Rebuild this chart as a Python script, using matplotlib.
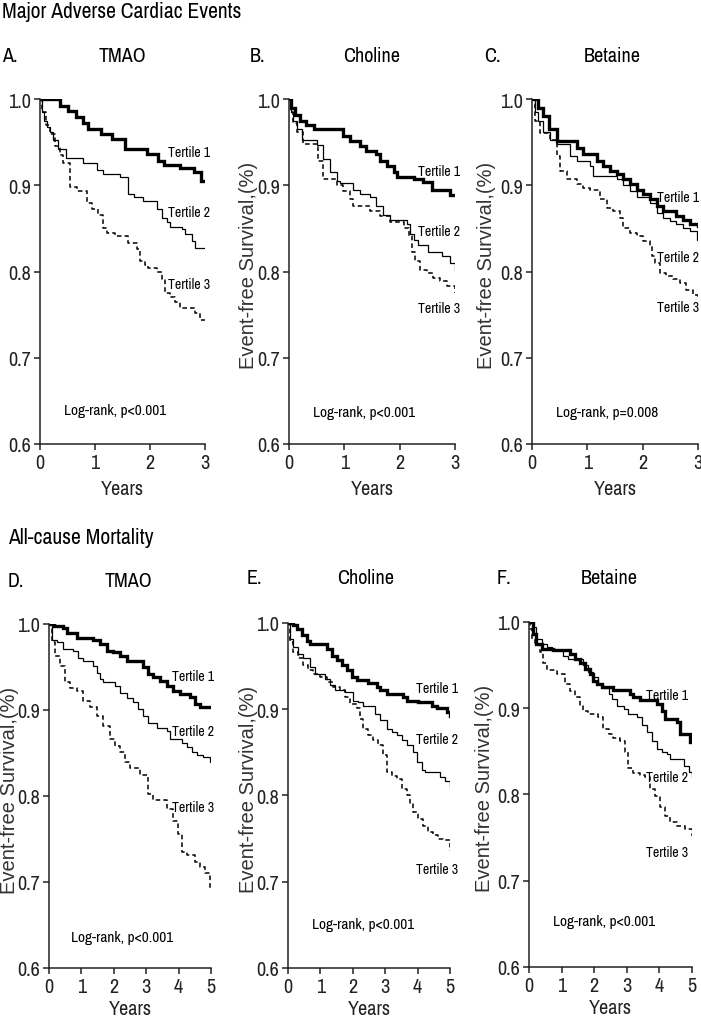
import matplotlib
matplotlib.use("Agg")
import matplotlib.pyplot as plt
from matplotlib import font_manager as fm

W, H = 701, 1020

# look for a narrow / condensed face like the Arial Narrow of the original
names = sorted({f.name for f in fm.fontManager.ttflist})
narrow_names = [n for n in names if "Narrow" in n or "Condensed" in n]
cond_fams = sorted({f.name for f in fm.fontManager.ttflist
                    if str(f.stretch) in ("condensed", "semi-condensed", "extra-condensed")
                    or (isinstance(f.stretch, int) and f.stretch < 500)})
if "Liberation Sans Narrow" in names:
    NARROW = dict(family=["Liberation Sans Narrow", "DejaVu Sans"])
    FOUND = True
elif narrow_names:
    NARROW = dict(family=[narrow_names[0], "DejaVu Sans"])
    FOUND = True
elif cond_fams:
    NARROW = dict(family=[cond_fams[0], "DejaVu Sans"], fontstretch="condensed")
    FOUND = True
else:
    NARROW = dict(family=["Liberation Sans", "DejaVu Sans"])
    FOUND = False
plt.rcParams["font.family"] = NARROW["family"]
if "fontstretch" in NARROW:
    plt.rcParams["font.stretch"] = "condensed"
SC = 1.0 if FOUND else 0.85

# ---- data: (years, survival) for each tertile ----
# A. MACE - TMAO
a_t1 = ([0, 0.36, 0.5, 0.65, 0.78, 0.88, 1.1, 1.3, 1.55, 1.95, 2.15, 2.25, 2.55, 2.8, 2.92, 3.0],
        [1.0, 0.992, 0.986, 0.979, 0.972, 0.965, 0.96, 0.954, 0.942, 0.936, 0.928, 0.923, 0.92, 0.915, 0.905, 0.905])
a_t2 = ([0, 0.03, 0.07, 0.12, 0.18, 0.24, 0.33, 0.48, 0.79, 1.03, 1.15, 1.45, 1.6, 1.7, 1.88, 2.12, 2.21, 2.3, 2.36, 2.58, 2.64, 2.76, 2.82, 3.0],
        [1.0, 0.985, 0.975, 0.968, 0.962, 0.953, 0.942, 0.932, 0.926, 0.918, 0.913, 0.909, 0.89, 0.886, 0.882, 0.872, 0.862, 0.857, 0.852, 0.849, 0.843, 0.835, 0.827, 0.827])
a_t3 = ([0, 0.03, 0.1, 0.18, 0.27, 0.36, 0.42, 0.55, 0.67, 0.85, 0.94, 1.06, 1.15, 1.21, 1.36, 1.6, 1.76, 1.82, 1.91, 1.97, 2.12, 2.21, 2.27, 2.36, 2.45, 2.55, 2.82, 2.91, 3.0],
        [1.0, 0.985, 0.97, 0.96, 0.945, 0.935, 0.926, 0.898, 0.893, 0.88, 0.872, 0.866, 0.851, 0.845, 0.841, 0.833, 0.826, 0.812, 0.808, 0.804, 0.8, 0.791, 0.775, 0.771, 0.765, 0.758, 0.752, 0.744, 0.744])
# B. MACE - Choline
b_t1 = ([0, 0.04, 0.1, 0.2, 0.3, 0.45, 0.98, 1.1, 1.28, 1.4, 1.58, 1.64, 1.77, 1.89, 1.95, 2.25, 2.43, 2.58, 2.91, 3.0],
        [1.0, 0.99, 0.982, 0.975, 0.97, 0.965, 0.957, 0.951, 0.946, 0.94, 0.936, 0.928, 0.922, 0.915, 0.909, 0.907, 0.904, 0.895, 0.889, 0.889])
b_t2 = ([0, 0.03, 0.08, 0.14, 0.23, 0.5, 0.62, 0.74, 0.86, 0.92, 1.16, 1.28, 1.46, 1.58, 1.7, 1.83, 2.13, 2.19, 2.25, 2.34, 2.52, 2.76, 2.91, 3.0],
        [1.0, 0.985, 0.975, 0.965, 0.952, 0.947, 0.93, 0.915, 0.905, 0.903, 0.895, 0.89, 0.886, 0.876, 0.866, 0.86, 0.855, 0.843, 0.837, 0.831, 0.823, 0.818, 0.81, 0.802])
b_t3 = ([0, 0.03, 0.08, 0.14, 0.26, 0.53, 0.62, 0.86, 0.98, 1.1, 1.16, 1.46, 1.64, 1.83, 2.07, 2.16, 2.22, 2.28, 2.37, 2.49, 2.61, 2.73, 2.85, 3.0],
        [1.0, 0.985, 0.972, 0.962, 0.948, 0.928, 0.907, 0.9, 0.893, 0.884, 0.876, 0.87, 0.864, 0.857, 0.851, 0.841, 0.823, 0.812, 0.802, 0.798, 0.793, 0.789, 0.783, 0.775])
# C. MACE - Betaine
c_t1 = ([0, 0.1, 0.2, 0.3, 0.45, 0.81, 0.93, 1.17, 1.29, 1.41, 1.53, 1.65, 1.77, 1.89, 2.01, 2.13, 2.25, 2.37, 2.61, 2.73, 2.85, 3.0],
        [1.0, 0.99, 0.98, 0.965, 0.951, 0.943, 0.936, 0.928, 0.922, 0.917, 0.913, 0.907, 0.901, 0.895, 0.89, 0.884, 0.876, 0.87, 0.864, 0.86, 0.855, 0.853])
c_t2 = ([0, 0.05, 0.1, 0.2, 0.33, 0.45, 0.69, 0.81, 1.05, 1.11, 1.53, 1.65, 1.77, 1.89, 2.13, 2.25, 2.37, 2.49, 2.61, 2.73, 2.85, 2.98, 3.0],
        [1.0, 0.985, 0.975, 0.962, 0.953, 0.948, 0.934, 0.928, 0.922, 0.911, 0.907, 0.9, 0.893, 0.886, 0.88, 0.868, 0.862, 0.858, 0.855, 0.851, 0.847, 0.837, 0.837])
c_t3 = ([0, 0.05, 0.145, 0.33, 0.45, 0.51, 0.63, 0.81, 0.93, 1.05, 1.23, 1.35, 1.47, 1.59, 1.65, 1.77, 1.89, 2.01, 2.13, 2.16, 2.22, 2.31, 2.43, 2.55, 2.67, 2.79, 2.91, 3.0],
        [1.0, 0.975, 0.961, 0.953, 0.934, 0.917, 0.907, 0.901, 0.897, 0.895, 0.884, 0.874, 0.87, 0.862, 0.851, 0.845, 0.841, 0.835, 0.829, 0.818, 0.81, 0.798, 0.795, 0.791, 0.787, 0.779, 0.773, 0.769])
# D. Mortality - TMAO
d_t1 = ([0, 0.16, 0.44, 0.55, 0.85, 1.37, 1.57, 1.78, 1.98, 2.19, 2.4, 2.91, 3.07, 3.22, 3.43, 3.63, 3.84, 4.04, 4.35, 4.51, 4.66, 5.0],
        [1.0, 0.998, 0.995, 0.99, 0.984, 0.981, 0.977, 0.969, 0.967, 0.963, 0.957, 0.95, 0.942, 0.938, 0.934, 0.928, 0.922, 0.919, 0.915, 0.907, 0.904, 0.904])
d_t2 = ([0, 0.08, 0.24, 0.44, 0.75, 0.91, 1.06, 1.37, 1.47, 1.57, 1.68, 2.04, 2.19, 2.4, 2.6, 2.76, 2.91, 3.07, 3.33, 3.63, 3.74, 4.1, 4.25, 4.4, 4.56, 4.76, 4.97, 5.0],
        [1.0, 0.981, 0.979, 0.971, 0.969, 0.961, 0.957, 0.951, 0.943, 0.936, 0.932, 0.928, 0.92, 0.914, 0.909, 0.901, 0.893, 0.885, 0.879, 0.875, 0.866, 0.862, 0.857, 0.851, 0.848, 0.845, 0.839, 0.839])
d_t3 = ([0, 0.08, 0.19, 0.34, 0.5, 0.65, 0.85, 1.06, 1.27, 1.47, 1.68, 1.88, 2.04, 2.19, 2.35, 2.5, 2.81, 3.07, 3.22, 3.63, 3.84, 3.99, 4.1, 4.25, 4.51, 4.66, 4.81, 4.97, 5.0],
        [1.0, 0.979, 0.963, 0.951, 0.932, 0.926, 0.922, 0.91, 0.903, 0.893, 0.881, 0.866, 0.858, 0.851, 0.839, 0.833, 0.824, 0.802, 0.795, 0.785, 0.771, 0.756, 0.735, 0.731, 0.723, 0.717, 0.711, 0.692, 0.692])
# E. Mortality - Choline
e_t1 = ([0, 0.15, 0.27, 0.42, 0.58, 0.68, 1.19, 1.35, 1.5, 1.66, 1.81, 1.96, 2.12, 2.48, 2.74, 2.84, 3.05, 3.56, 3.66, 4.02, 4.43, 4.59, 4.9, 5.0],
        [1.0, 0.998, 0.993, 0.986, 0.979, 0.976, 0.97, 0.962, 0.957, 0.951, 0.945, 0.937, 0.934, 0.93, 0.926, 0.922, 0.918, 0.914, 0.91, 0.908, 0.904, 0.901, 0.897, 0.892])
e_t2 = ([0, 0.06, 0.16, 0.32, 0.47, 0.68, 0.83, 1.14, 1.3, 1.45, 1.76, 2.02, 2.17, 2.33, 2.69, 2.84, 3.05, 3.2, 3.36, 3.51, 3.66, 3.87, 3.97, 4.13, 4.23, 4.69, 4.85, 5.0],
        [1.0, 0.982, 0.972, 0.964, 0.959, 0.949, 0.941, 0.935, 0.928, 0.922, 0.92, 0.91, 0.908, 0.904, 0.894, 0.887, 0.877, 0.874, 0.87, 0.864, 0.858, 0.85, 0.839, 0.829, 0.827, 0.821, 0.817, 0.81])
e_t3 = ([0, 0.06, 0.16, 0.32, 0.47, 0.63, 0.78, 0.99, 1.19, 1.4, 1.61, 1.76, 1.91, 2.12, 2.22, 2.33, 2.48, 2.63, 2.79, 2.94, 3.05, 3.2, 3.36, 3.51, 3.66, 3.77, 3.87, 4.02, 4.18, 4.33, 4.49, 4.64, 4.79, 5.0],
        [1.0, 0.978, 0.966, 0.959, 0.951, 0.945, 0.941, 0.937, 0.932, 0.926, 0.922, 0.914, 0.906, 0.901, 0.889, 0.877, 0.87, 0.864, 0.858, 0.847, 0.827, 0.823, 0.819, 0.808, 0.8, 0.79, 0.781, 0.773, 0.765, 0.758, 0.754, 0.75, 0.748, 0.736])
# F. Mortality - Betaine
f_t1 = ([0, 0.13, 0.23, 0.39, 0.75, 1.26, 1.41, 1.56, 1.72, 1.87, 1.97, 2.08, 2.23, 2.59, 3.1, 3.2, 3.41, 3.92, 4.08, 4.18, 4.54, 4.64, 4.95, 5.0],
        [1.0, 0.986, 0.975, 0.969, 0.967, 0.963, 0.957, 0.952, 0.946, 0.94, 0.932, 0.928, 0.925, 0.921, 0.917, 0.913, 0.909, 0.905, 0.897, 0.888, 0.884, 0.87, 0.861, 0.861])
f_t2 = ([0, 0.13, 0.23, 0.39, 0.54, 0.7, 1.05, 1.2, 1.67, 1.82, 1.97, 2.13, 2.28, 2.44, 2.54, 2.69, 2.9, 3.05, 3.31, 3.46, 3.61, 3.77, 3.92, 4.08, 4.23, 4.33, 4.74, 4.9, 5.0],
        [1.0, 0.994, 0.98, 0.975, 0.971, 0.967, 0.961, 0.957, 0.95, 0.942, 0.936, 0.928, 0.923, 0.917, 0.911, 0.903, 0.899, 0.893, 0.89, 0.88, 0.872, 0.862, 0.853, 0.849, 0.847, 0.841, 0.833, 0.826, 0.82])
f_t3 = ([0, 0.04, 0.08, 0.18, 0.33, 0.44, 0.54, 0.85, 1.1, 1.26, 1.41, 1.56, 1.67, 1.82, 2.13, 2.28, 2.44, 2.59, 2.79, 2.95, 3.05, 3.2, 3.41, 3.56, 3.71, 3.87, 4.03, 4.18, 4.33, 4.54, 4.8, 5.0],
        [1.0, 0.992, 0.98, 0.973, 0.965, 0.952, 0.944, 0.94, 0.928, 0.92, 0.913, 0.903, 0.897, 0.893, 0.89, 0.876, 0.87, 0.866, 0.862, 0.849, 0.831, 0.825, 0.823, 0.82, 0.806, 0.798, 0.785, 0.775, 0.768, 0.764, 0.76, 0.752])

panel_letters = ["A.", "B.", "C.", "D.", "E.", "F."]
markers = ["TMAO", "Choline", "Betaine", "TMAO", "Choline", "Betaine"]
curves = [[a_t1, a_t2, a_t3], [b_t1, b_t2, b_t3], [c_t1, c_t2, c_t3],
          [d_t1, d_t2, d_t3], [e_t1, e_t2, e_t3], [f_t1, f_t2, f_t3]]
pvalues = ["Log-rank, p<0.001", "Log-rank, p<0.001", "Log-rank, p=0.008",
           "Log-rank, p<0.001", "Log-rank, p<0.001", "Log-rank, p<0.001"]
max_years = [3, 3, 3, 5, 5, 5]
tertile_names = ["Tertile 1", "Tertile 2", "Tertile 3"]
# label positions (years, survival) per panel
tertile_pos = [
    [(2.33, 0.938), (2.33, 0.869), (2.33, 0.786)],
    [(2.33, 0.916), (2.33, 0.847), (2.33, 0.758)],
    [(2.26, 0.886), (2.26, 0.817), (2.26, 0.759)],
    [(3.8, 0.94), (3.8, 0.876), (3.8, 0.787)],
    [(3.95, 0.925), (3.95, 0.866), (3.95, 0.715)],
    [(3.59, 0.915), (3.6, 0.82), (3.59, 0.733)],
]
pval_pos = [(0.44, 0.64), (0.43, 0.637), (0.43, 0.637), (0.68, 0.636), (0.73, 0.651), (0.74, 0.653)]

# axes boxes in pixels: left, right, top(1.0), bottom(0.6)
boxes = [(40, 205, 100, 445), (289, 455, 100, 445), (532, 698, 100, 445),
         (49, 211, 625, 969), (288, 450, 624, 969), (529, 692, 623, 968)]
letter_xy = [(2, 57), (250, 57), (484, 57), (8, 582), (247, 578), (497, 578)]
name_xy = [(122, 57), (372, 57), (612, 57), (128, 582), (366, 578), (609, 578)]
# right edge (pixels) of the rotated y label
ylabel_x = [None, 258, 496, 19, 258, 494]
xlabel_pad = [5, 5, 5, 2.5, 2.5, 2.5]

styles = [dict(lw=2.4, ls="-"), dict(lw=0.9, ls="-"), dict(lw=1.1, ls=(0, (3, 2)))]

fig = plt.figure(figsize=(W / 100, H / 100), dpi=100)

def fx(px):
    return px / W

def fy(py):
    return 1 - py / H

fig.text(fx(2), fy(12), "Major Adverse Cardiac Events", fontsize=15.5 * SC, va="center", ha="left")
fig.text(fx(8), fy(538), "All-cause Mortality", fontsize=15.5 * SC, va="center", ha="left")

for i in range(6):
    l, r, t, b = boxes[i]
    ax = fig.add_axes([fx(l), fy(b), (r - l) / W, (b - t) / H])
    for j in range(3):
        times, surv = curves[i][j]
        ax.plot(times, surv, color="black", drawstyle="steps-post",
                solid_joinstyle="miter", **styles[j])
        tx, ty = tertile_pos[i][j]
        ax.text(tx, ty, tertile_names[j], fontsize=10 * SC, va="center", ha="left", clip_on=False)
    px_, py_ = pval_pos[i]
    ax.text(px_, py_, pvalues[i], fontsize=11 * SC, va="center", ha="left")

    ax.set_xlim(0, max_years[i])
    ax.set_ylim(0.6, 1.0)
    ax.set_xticks(range(max_years[i] + 1))
    ax.set_yticks([0.6, 0.7, 0.8, 0.9, 1.0])
    ax.set_yticklabels(["0.6", "0.7", "0.8", "0.9", "1.0"])
    ax.spines["top"].set_visible(False)
    ax.spines["right"].set_visible(False)
    for s in ["left", "bottom"]:
        ax.spines[s].set_linewidth(1.1)
        ax.spines[s].set_color("#222222")
    ax.tick_params(axis="both", direction="out", length=4.5, width=1.1, color="#222222",
                   labelsize=14.5 * SC, pad=2, labelcolor="#222222")
    ax.set_xlabel("Years", fontsize=14.5 * SC, labelpad=xlabel_pad[i], color="#222222")
    if ylabel_x[i] is not None:
        ax.set_ylabel("Event-free Survival,(%)", fontsize=14.5, color="#333333",
                      family=["Liberation Sans", "DejaVu Sans"])
        ax.yaxis.set_label_coords((ylabel_x[i] - l) / (r - l), 0.52)

    fig.text(fx(letter_xy[i][0]), fy(letter_xy[i][1]), panel_letters[i], fontsize=14.5 * SC,
             va="center", ha="left")
    fig.text(fx(name_xy[i][0]), fy(name_xy[i][1]), markers[i], fontsize=14.5 * SC,
             va="center", ha="center")

fig.savefig("out.png", dpi=100)
